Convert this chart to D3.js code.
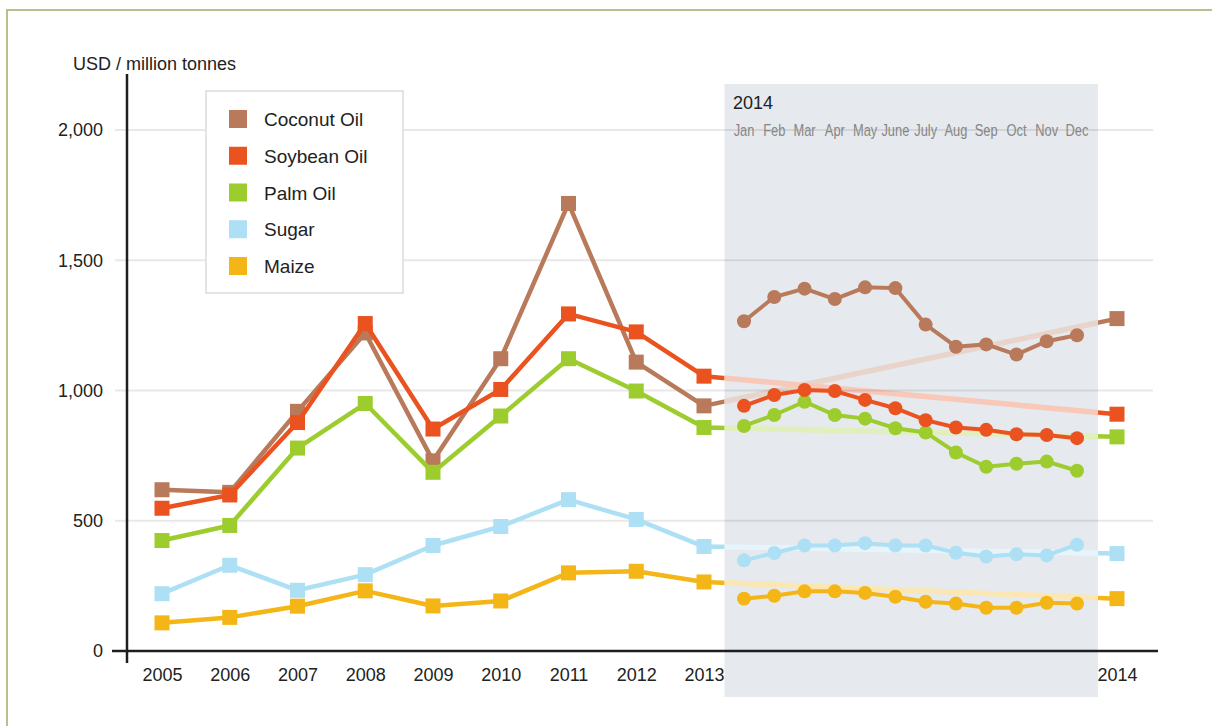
<!DOCTYPE html>
<html>
<head>
<meta charset="utf-8">
<script src="https://cdn.jsdelivr.net/npm/d3@7"></script>
<style>
  html, body { margin: 0; padding: 0; background: #fff; }
  svg { display: block; font-family: "Liberation Sans", Arial, sans-serif; }
</style>
</head>
<body>
<svg id="chart" width="1212" height="726"></svg>
<script>
// ---------------- DATA ----------------
const years = [2005, 2006, 2007, 2008, 2009, 2010, 2011, 2012, 2013];
const finalYear = 2014;
const months = ["Jan", "Feb", "Mar", "Apr", "May", "June", "July", "Aug", "Sep", "Oct", "Nov", "Dec"];
const yTicks = [0, 500, 1000, 1500, 2000];

const seriesNames = ["Coconut Oil", "Soybean Oil", "Palm Oil", "Sugar", "Maize"];
const seriesColors = ["#b87a5a", "#ea5320", "#9dcc2e", "#ade0f4", "#f4b516"];

const coconutAnnual = [619, 609, 920, 1221, 730, 1122, 1718, 1109, 941];
const soybeanAnnual = [548, 599, 877, 1257, 852, 1004, 1294, 1225, 1055];
const palmAnnual    = [424, 482, 779, 950, 686, 902, 1122, 998, 858];
const sugarAnnual   = [220, 329, 233, 293, 405, 478, 581, 505, 401];
const maizeAnnual   = [108, 129, 172, 231, 173, 192, 300, 306, 265];

const annual2014 = [1276, 909, 822, 374, 201];

const coconutMonthly = [1266, 1359, 1391, 1351, 1396, 1393, 1253, 1168, 1177, 1138, 1189, 1212];
const soybeanMonthly = [941, 983, 1002, 998, 964, 932, 886, 858, 849, 832, 829, 817];
const palmMonthly    = [864, 906, 957, 906, 892, 855, 839, 762, 707, 719, 727, 692];
const sugarMonthly   = [348, 376, 405, 405, 414, 405, 405, 377, 363, 371, 367, 408];
const maizeMonthly   = [201, 212, 229, 229, 223, 208, 189, 182, 166, 166, 185, 182];

const annualData = [coconutAnnual, soybeanAnnual, palmAnnual, sugarAnnual, maizeAnnual];
const monthlyData = [coconutMonthly, soybeanMonthly, palmMonthly, sugarMonthly, maizeMonthly];

// ---------------- SETUP ----------------
const svg = d3.select("#chart");

const x = d3.scaleLinear().domain([2005, 2013, 2014]).range([162, 704, 1117]);
const xm = d3.scaleLinear().domain([0, 11]).range([744, 1077]);
const y = d3.scaleLinear().domain([0, 2000]).range([651, 130]);

const band = { x0: 724.5, x1: 1098, y0: 84, y1: 697 };

// outer frame (only top/left visible)
svg.append("rect")
  .attr("x", 7).attr("y", 10).attr("width", 1240).attr("height", 760)
  .attr("fill", "none").attr("stroke", "#b6c18e").attr("stroke-width", 2);

// 2013 -> 2014 connector lines (full colour, visible outside band)
const connectors = svg.append("g");
seriesNames.forEach((name, i) => {
  connectors.append("line")
    .attr("x1", x(2013)).attr("y1", y(annualData[i][annualData[i].length - 1]))
    .attr("x2", x(finalYear)).attr("y2", y(annual2014[i]))
    .attr("stroke", seriesColors[i]).attr("stroke-width", 4.5);
});

// grey band
svg.append("rect")
  .attr("x", band.x0).attr("y", band.y0)
  .attr("width", band.x1 - band.x0).attr("height", band.y1 - band.y0)
  .attr("fill", "#e6e9ed");

// pale connectors across band
const defs = svg.append("defs");
defs.append("clipPath").attr("id", "bandClip")
  .append("rect").attr("x", band.x0).attr("y", band.y0)
  .attr("width", band.x1 - band.x0).attr("height", band.y1 - band.y0);
const pale = svg.append("g").attr("clip-path", "url(#bandClip)");
seriesNames.forEach((name, i) => {
  pale.append("line")
    .attr("x1", x(2013)).attr("y1", y(annualData[i][annualData[i].length - 1]))
    .attr("x2", x(finalYear)).attr("y2", y(annual2014[i]))
    .attr("stroke", d3.interpolateRgb(seriesColors[i], "#ffffff")(0.68))
    .attr("stroke-width", 5.5);
});

// gridlines
svg.append("g").selectAll("line")
  .data(yTicks.filter(d => d > 0))
  .join("line")
  .attr("x1", 115).attr("x2", 1153)
  .attr("y1", d => y(d)).attr("y2", d => y(d))
  .attr("stroke", "#000").attr("stroke-opacity", 0.09).attr("stroke-width", 2);

// y tick labels
const yAxis = svg.append("g")
  .attr("transform", "translate(110,0)")
  .call(d3.axisLeft(y).tickValues(yTicks).tickFormat(d3.format(",")).tickSize(0).tickPadding(7));
yAxis.select(".domain").remove();
yAxis.selectAll("text").attr("font-size", 18).attr("fill", "#222")
  .attr("font-family", "Liberation Sans, Arial, sans-serif");

// x tick labels
const xAxis = svg.append("g")
  .attr("transform", "translate(0,651)")
  .call(d3.axisBottom(x).tickValues(years.concat([finalYear])).tickFormat(d3.format("d")).tickSize(0).tickPadding(17));
xAxis.select(".domain").remove();
xAxis.selectAll("text").attr("font-size", 18).attr("fill", "#222")
  .attr("font-family", "Liberation Sans, Arial, sans-serif");

// axis lines
svg.append("line").attr("x1", 127).attr("x2", 127).attr("y1", 74).attr("y2", 663)
  .attr("stroke", "#1e1e1e").attr("stroke-width", 2.5);
svg.append("line").attr("x1", 112).attr("x2", 1158).attr("y1", 651).attr("y2", 651)
  .attr("stroke", "#1e1e1e").attr("stroke-width", 2.5);

// y title
svg.append("text").attr("x", 73).attr("y", 70).attr("font-size", 18).attr("fill", "#222")
  .text("USD / million tonnes");

// band labels
svg.append("text").attr("x", 733).attr("y", 109).attr("font-size", 18).attr("fill", "#222")
  .text("2014");
svg.append("g").selectAll("text").data(months).join("text")
  .attr("transform", (d, i) => `translate(${xm(i)},136) scale(0.78,1)`)
  .attr("text-anchor", "middle").attr("font-size", 16.5).attr("fill", "#868686")
  .text(d => d);

// annual lines + squares
const lineA = d3.line().x((d, i) => x(years[i])).y(d => y(d));
const lineM = d3.line().x((d, i) => xm(i)).y(d => y(d));
const sq = 15;

seriesNames.forEach((name, i) => {
  const g = svg.append("g");
  g.append("path").attr("d", lineA(annualData[i]))
    .attr("fill", "none").attr("stroke", seriesColors[i]).attr("stroke-width", 4.5)
    .attr("stroke-linejoin", "round");
  g.selectAll("rect").data(annualData[i]).join("rect")
    .attr("x", (d, j) => x(years[j]) - sq / 2).attr("y", d => y(d) - sq / 2)
    .attr("width", sq).attr("height", sq).attr("fill", seriesColors[i]);
  g.append("rect")
    .attr("x", x(finalYear) - sq / 2).attr("y", y(annual2014[i]) - sq / 2)
    .attr("width", sq).attr("height", sq).attr("fill", seriesColors[i]);
});

// monthly lines + circles
[4, 3, 2, 1, 0].forEach(i => {
  const g = svg.append("g");
  g.append("path").attr("d", lineM(monthlyData[i]))
    .attr("fill", "none").attr("stroke", seriesColors[i]).attr("stroke-width", 4);
  g.selectAll("circle").data(monthlyData[i]).join("circle")
    .attr("cx", (d, j) => xm(j)).attr("cy", d => y(d)).attr("r", 7)
    .attr("fill", seriesColors[i]);
});

// legend
const legend = svg.append("g");
legend.append("rect").attr("x", 206).attr("y", 91).attr("width", 197).attr("height", 202)
  .attr("fill", "#fff").attr("stroke", "#dcdcdc").attr("stroke-width", 1.5);
const legendRowY = d3.scaleLinear().domain([0, 4]).range([119, 266]);
seriesNames.forEach((name, i) => {
  legend.append("rect").attr("x", 229).attr("y", legendRowY(i) - 9)
    .attr("width", 18).attr("height", 18).attr("fill", seriesColors[i]);
  legend.append("text").attr("x", 264).attr("y", legendRowY(i) + 7)
    .attr("font-size", 19).attr("fill", "#222").text(name);
});
</script>
</body>
</html>
